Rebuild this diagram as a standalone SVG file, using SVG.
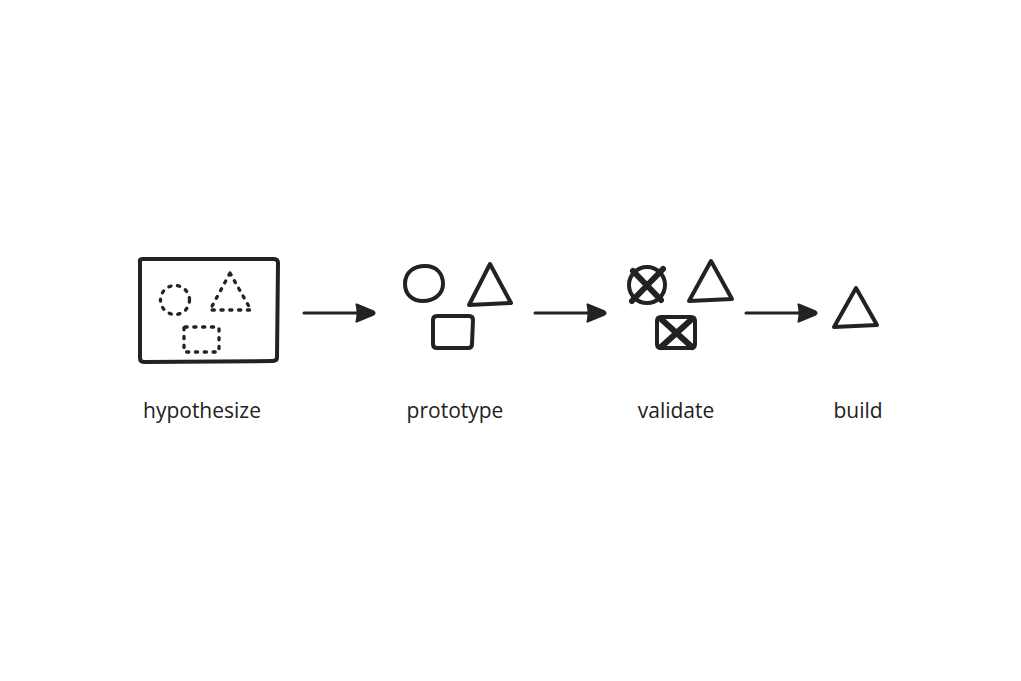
<svg xmlns="http://www.w3.org/2000/svg" width="1021" height="681" viewBox="0 0 1021 681">
<defs>
<style>
.s{fill:none;stroke:#222;stroke-width:4;stroke-linecap:round;stroke-linejoin:round}
.d{fill:none;stroke:#222;stroke-width:3.3;stroke-linecap:round;stroke-dasharray:2.2 6.6}
.x{fill:none;stroke:#222;stroke-width:6;stroke-linecap:round}
.c{fill:none;stroke:#222;stroke-width:3;stroke-linecap:round}
.t{font-family:"Open Sans","Noto Sans",sans-serif;font-size:21px;fill:#222;text-anchor:middle}
</style>
<marker id="ah" viewBox="0 0 22 20" refX="20" refY="10" markerWidth="22" markerHeight="20" markerUnits="userSpaceOnUse" orient="auto">
<path d="M1.5,1.5 Q1,0 3,0.6 L20,7.5 Q22.5,10 20,12.5 L3,19.4 Q1,20 1.5,18.5 Q3.5,10 1.5,1.5 Z" fill="#222"/>
</marker>
</defs>
<rect width="1021" height="681" fill="#fff"/>
<g id="hypothesize">
<path class="s" d="M140,262 Q139,259 143,259 L274,259 Q278,259 278,263 L277,357 Q277,361 273,361 L144,362 Q140,362 140,358 Z"/>
<circle class="d" cx="175" cy="300" r="14.5"/>
<path class="d" d="M230,273 L251,310 L210,310 Z"/>
<rect class="d" x="184" y="327" width="35" height="25" rx="1"/>
<text class="t" x="202" y="418">hypothesize</text>
</g>
<g id="prototype">
<path class="s" d="M405,284 C405,272 414,266 425,266 C437,266 443,274 443,284 C443,295 433,301 423,301 C412,301 405,294 405,284 Z"/>
<path class="s" d="M490,264 L511,303 L469,305 Z"/>
<path class="s" d="M433,320 Q433,316 437,316 L469,316 Q473,316 473,320 L472,344 Q472,348 468,348 L437,348 Q433,348 433,344 Z"/>
<text class="t" x="455" y="418">prototype</text>
</g>
<g id="validate">
<circle class="s" cx="647" cy="285" r="18" stroke-width="5"/>
<path class="x" d="M633,271 L661,300 M663,269 L632,301"/>
<path class="s" d="M657,321 Q657,317 661,317 L691,317 Q695,317 695,321 L695,344 Q695,348 691,348 L661,348 Q657,348 657,344 Z" stroke-width="5"/>
<path class="x" d="M661,319 L692,347 M692,319 L661,347"/>
<path class="s" d="M711,261 L732,299 L689,301 Z"/>
<text class="t" x="676" y="418">validate</text>
</g>
<g id="build">
<path class="s" d="M856,288 L877,325 L834,327 Z"/>
<text class="t" x="858" y="418">build</text>
</g>
<g id="connectors">
<line class="c" x1="304" y1="313" x2="374" y2="313" marker-end="url(#ah)"/>
<line class="c" x1="535" y1="313" x2="605" y2="313" marker-end="url(#ah)"/>
<line class="c" x1="746" y1="313" x2="816" y2="313" marker-end="url(#ah)"/>
</g>
</svg>
